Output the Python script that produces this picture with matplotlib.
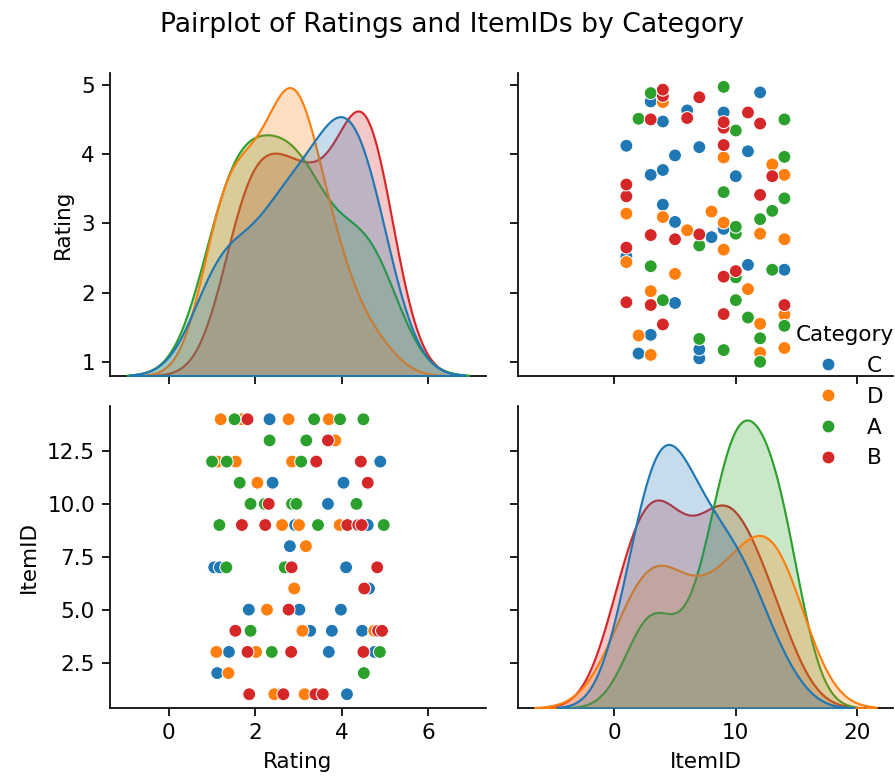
import pandas as pd
import matplotlib
matplotlib.use("Agg")
import matplotlib.pyplot as plt
import seaborn as sns

categories = ['C', 'D', 'A', 'B']

# Category C
c_item = [14, 12, 11, 11, 10, 9, 9, 8, 7, 7, 7, 6, 5, 5, 5, 4, 4, 4, 3, 3, 3, 2, 1, 1]
c_rating = [2.33, 4.89, 2.40, 4.04, 3.68, 2.92, 4.60, 2.80, 1.05, 1.18, 4.10, 4.63,
            1.85, 3.02, 3.98, 3.27, 3.77, 4.47, 1.39, 3.70, 4.76, 1.12, 2.52, 4.12]

# Category D
d_item = [14, 14, 14, 14, 13, 12, 12, 12, 11, 9, 9, 9, 8, 6, 5, 4, 4, 3, 3, 2, 1, 1]
d_rating = [1.20, 1.68, 2.77, 3.70, 3.85, 1.13, 1.55, 2.85, 2.05, 2.62, 3.01, 3.95,
            3.17, 2.90, 2.27, 3.09, 4.75, 1.10, 2.02, 1.38, 2.44, 3.14]

# Category A
a_item = [14, 14, 14, 14, 13, 13, 12, 12, 12, 11, 10, 10, 10, 10, 10, 9, 9, 9, 7, 7, 4, 3, 3, 2]
a_rating = [1.52, 3.36, 3.96, 4.50, 2.33, 3.18, 1.00, 1.34, 3.06, 1.64, 1.89, 2.22,
            2.85, 2.95, 4.34, 1.17, 3.45, 4.97, 1.33, 2.68, 1.89, 2.38, 4.88, 4.51]

# Category B
b_item = [14, 13, 12, 12, 11, 10, 9, 9, 9, 9, 9, 7, 7, 6, 5, 4, 4, 4, 3, 3, 3, 1, 1, 1, 1]
b_rating = [1.82, 3.68, 3.41, 4.44, 4.60, 2.31, 1.69, 2.23, 4.13, 4.38, 4.46, 2.84,
            4.82, 4.52, 2.77, 1.54, 4.84, 4.93, 1.82, 2.83, 4.50, 1.86, 2.65, 3.39, 3.56]

frames = []
for cat, items, ratings in [('C', c_item, c_rating), ('D', d_item, d_rating),
                            ('A', a_item, a_rating), ('B', b_item, b_rating)]:
    frames.append(pd.DataFrame({'Rating': ratings, 'ItemID': items, 'Category': cat}))
df = pd.concat(frames, ignore_index=True)

g = sns.pairplot(df, hue='Category', hue_order=categories)
fig = g.figure
fig.set_size_inches(895 / 155, 778 / 155)
fig.subplots_adjust(left=0.123, right=0.998, bottom=0.090, top=0.906,
                    wspace=0.085, hspace=0.099)
fig.suptitle('Pairplot of Ratings and ItemIDs by Category', x=0.505, y=0.985,
             fontsize=12.4)
sns.move_legend(g, 'center', bbox_to_anchor=(0.944, 0.49), frameon=False)

fig.savefig('out.png', dpi=155)
